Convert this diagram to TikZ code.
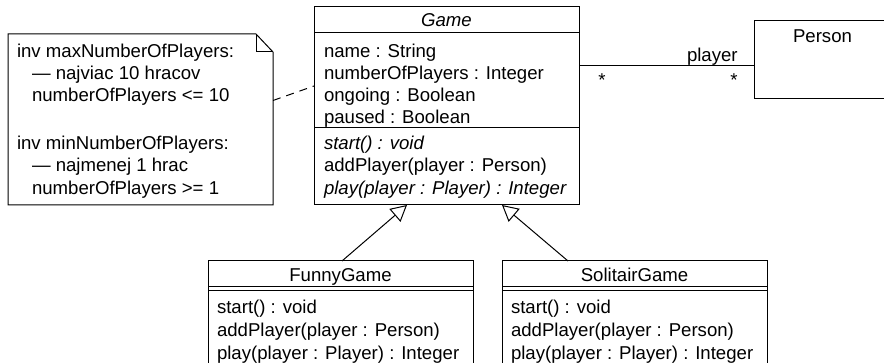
\documentclass[tikz,border=0pt]{standalone}
\usepackage{fontspec}
\setmainfont{Liberation Sans}
\usetikzlibrary{arrows.meta,calc}
\tikzstyle{every node}=[inner sep=0pt, outer sep=0pt, font=\fontsize{18.6}{22}\selectfont]
\tikzstyle{classbox}=[draw, rectangle, anchor=north west]
\tikzstyle{member}=[anchor=base west]
\tikzstyle{classname}=[anchor=base]
\tikzstyle{gen}=[-{Triangle[open, length=16pt, width=17pt]}]

\begin{document}
\begin{tikzpicture}[x=1pt, y=-1pt, line width=1pt]
    \clip (0,0) rectangle (884,363);
% Note
    \node[anchor=north west, minimum width=265, minimum height=171] (note) at (8,34) {};
    \draw (note.south west) -- (note.north west) -- ($(note.north east)+(-17,0)$)
        -- ($(note.north east)+(0,18)$) -- (note.south east) -- cycle;
    \draw ($(note.north east)+(-17,0)$) -- ($(note.north east)+(-17,18)$) -- ($(note.north east)+(0,18)$);
    \node[member] (inv1) at (17,58) {inv maxNumberOfPlayers:};
    \node[member] (cmt1) at (32,80) {— najviac 10 hracov};
    \node[member] (exp1) at (32,102) {numberOfPlayers <= 10};
    \node[member] (inv2) at (17,150) {inv minNumberOfPlayers:};
    \node[member] (cmt2) at (32,172) {— najmenej 1 hrac};
    \node[member] (exp2) at (32,195) {numberOfPlayers >= 1};
% Game
    \node[classbox, minimum width=265, minimum height=198] (game) at (314,7) {};
    \draw ($(game.north west)+(0,26)$) -- ($(game.north east)+(0,26)$);
    \draw ($(game.north west)+(0,121)$) -- ($(game.north east)+(0,121)$);
    \node[classname] (gtitle) at (446.5,27) {\itshape Game};
    \node[member] (gname) at (324,58) {name : String};
    \node[member] (gnum) at (324,80) {numberOfPlayers : Integer};
    \node[member] (gongo) at (324,102) {ongoing : Boolean};
    \node[member] (gpause) at (324,124) {paused : Boolean};
    \node[member] (gstart) at (324,150) {\itshape start() : void};
    \node[member] (gadd) at (324,172) {addPlayer(player : Person)};
    \node[member] (gplay) at (324,195) {\itshape play(player : Player) : Integer};
% Person
    \node[classbox, minimum width=137, minimum height=78] (person) at (754,21) {};
    \node[classname] (ptitle) at (822.5,43) {Person};
% FunnyGame
    \node[classbox, minimum width=265, minimum height=130] (funny) at (208,261) {};
    \draw ($(funny.north west)+(0,26)$) -- ($(funny.north east)+(0,26)$);
    \draw ($(funny.north west)+(0,29.5)$) -- ($(funny.north east)+(0,29.5)$);
    \node[classname] (ftitle) at (340.5,281.5) {FunnyGame};
    \node[member] (fstart) at (217,314) {start() : void};
    \node[member] (fadd) at (217,337) {addPlayer(player : Person)};
    \node[member] (fplay) at (217,360) {play(player : Player) : Integer};
% SolitairGame
    \node[classbox, minimum width=265, minimum height=130] (solit) at (502,261) {};
    \draw ($(solit.north west)+(0,26)$) -- ($(solit.north east)+(0,26)$);
    \draw ($(solit.north west)+(0,29.5)$) -- ($(solit.north east)+(0,29.5)$);
    \node[classname] (stitle) at (634.5,281.5) {SolitairGame};
    \node[member] (sstart) at (511,314) {start() : void};
    \node[member] (sadd) at (511,337) {addPlayer(player : Person)};
    \node[member] (splay) at (511,360) {play(player : Player) : Integer};
% Links
    \draw[dashed, dash pattern=on 8pt off 6pt] ($(note.north east)+(0,66.5)$) -- ($(game.north west)+(0,79)$);
    \draw ($(game.north east)+(0,59)$) -- ($(person.north west)+(0,45)$);
    \node[member] (role) at (687,62) {player};
    \node (mult1) at (602,80) {*};
    \node (mult2) at (734,80) {*};
    \draw[gen] ($(funny.north west)+(134,0)$) -- ($(game.south west)+(93,0)$);
    \draw[gen] ($(solit.north west)+(66,0)$) -- ($(game.south west)+(188,0)$);
\end{tikzpicture}
\end{document}
